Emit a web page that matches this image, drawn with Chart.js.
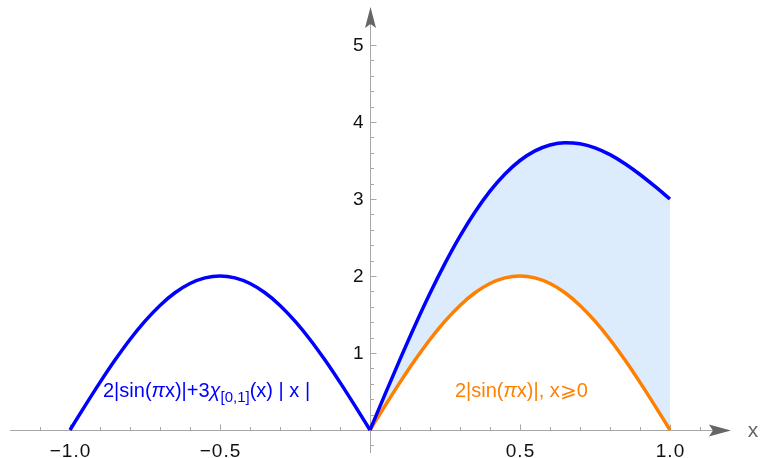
<!DOCTYPE html>
<html>
<head>
<meta charset="utf-8">
<script src="https://cdn.jsdelivr.net/npm/chart.js@4/dist/chart.umd.min.js"></script>
<style>
  html, body { margin: 0; padding: 0; background: #fff; }
  #wrap { width: 760px; height: 458px; position: relative; }
</style>
</head>
<body>
<div id="wrap"><canvas id="chart"></canvas></div>
<script>
// curve samples
const xLeft = [-1.0, -0.95, -0.9, -0.85, -0.8, -0.75, -0.7, -0.65, -0.6, -0.55, -0.5,
	-0.45, -0.4, -0.35, -0.3, -0.25, -0.2, -0.15, -0.1, -0.05, 0];
const blueLeft = [0, 0.313, 0.618, 0.908, 1.176, 1.414, 1.618, 1.782, 1.902, 1.975, 2.0,
	1.975, 1.902, 1.782, 1.618, 1.414, 1.176, 0.908, 0.618, 0.313, 0];
const xRight = [0, 0.05, 0.1, 0.15, 0.2, 0.25, 0.3, 0.35, 0.4, 0.45, 0.5,
	0.55, 0.6, 0.65, 0.7, 0.75, 0.8, 0.85, 0.9, 0.95, 1.0];
const blueRight = [0, 0.463, 0.918, 1.358, 1.776, 2.164, 2.518, 2.832, 3.102, 3.325, 3.5,
	3.625, 3.702, 3.732, 3.718, 3.664, 3.576, 3.458, 3.318, 3.163, 3.0];
const orangeRight = [0, 0.313, 0.618, 0.908, 1.176, 1.414, 1.618, 1.782, 1.902, 1.975, 2.0,
	1.975, 1.902, 1.782, 1.618, 1.414, 1.176, 0.908, 0.618, 0.313, 0];

const xTicks = [-1.0, -0.5, 0.5, 1.0];
const xTickLabels = ['\u22121.0', '\u22120.5', '0.5', '1.0'];
const yTicks = [1, 2, 3, 4, 5];
const yTickLabels = ['1', '2', '3', '4', '5'];

const BLUE = '#0000ff';
const ORANGE = '#ff8000';
const FILL = '#dcecfc';
const FONT = '"Liberation Sans", Arial, sans-serif';

const pts = (xs, ys) => xs.map((x, i) => ({ x: x, y: ys[i] }));

const axesPlugin = {
	id: 'axes',
	beforeDatasetsDraw(chart) {
		const ctx = chart.ctx;
		const sx = chart.scales.x;
		const sy = chart.scales.y;
		const x0 = Math.round(sx.getPixelForValue(0)) + 0.5;
		const y0 = Math.round(sy.getPixelForValue(0)) + 0.5;
		ctx.save();
		ctx.strokeStyle = '#a8a8a8';
		ctx.lineWidth = 1;

		// axis lines
		ctx.beginPath();
		ctx.moveTo(sx.getPixelForValue(-1.2), y0);
		ctx.lineTo(sx.getPixelForValue(1.15), y0);
		ctx.moveTo(x0, sy.getPixelForValue(-0.3));
		ctx.lineTo(x0, sy.getPixelForValue(5.3));
		ctx.stroke();

		// x ticks (minor every 0.1, major every 0.5)
		ctx.beginPath();
		for (let i = -11; i <= 11; i++) {
			if (i === 0) continue;
			const px = Math.round(sx.getPixelForValue(i / 10)) + 0.5;
			const len = i % 5 === 0 ? 6 : 3.5;
			ctx.moveTo(px, y0);
			ctx.lineTo(px, y0 - len);
		}
		// y ticks (minor every 0.2, major every 1)
		for (let i = -1; i <= 25; i++) {
			if (i === 0) continue;
			const py = Math.round(sy.getPixelForValue(i / 5)) + 0.5;
			const len = i % 5 === 0 ? 6 : 3.5;
			ctx.moveTo(x0, py);
			ctx.lineTo(x0 + len, py);
		}
		ctx.stroke();

		// arrow heads
		ctx.fillStyle = '#666666';
		const ax = sx.getPixelForValue(1.203);
		ctx.beginPath();
		ctx.moveTo(ax, y0);
		ctx.lineTo(ax - 22, y0 - 6);
		ctx.lineTo(ax - 18, y0);
		ctx.lineTo(ax - 22, y0 + 6);
		ctx.closePath();
		ctx.fill();
		const ay = sy.getPixelForValue(5.494);
		ctx.beginPath();
		ctx.moveTo(x0, ay);
		ctx.lineTo(x0 - 5.5, ay + 21);
		ctx.lineTo(x0, ay + 17);
		ctx.lineTo(x0 + 5.5, ay + 21);
		ctx.closePath();
		ctx.fill();

		// tick labels
		ctx.fillStyle = '#111';
		ctx.font = '19px ' + FONT;
		ctx.textAlign = 'center';
		ctx.textBaseline = 'alphabetic';
		ctx.letterSpacing = '1px';
		xTicks.forEach((v, i) => {
			ctx.fillText(xTickLabels[i], sx.getPixelForValue(v) + 0.5, y0 + 26.5);
		});
		ctx.letterSpacing = '0px';
		ctx.textAlign = 'right';
		ctx.textBaseline = 'middle';
		yTicks.forEach((v, i) => {
			ctx.fillText(yTickLabels[i], x0 - 7, sy.getPixelForValue(v) + 1);
		});

		// axis label
		ctx.fillStyle = '#666';
		ctx.font = '21px ' + FONT;
		ctx.textAlign = 'center';
		ctx.fillText('x', sx.getPixelForValue(1.277), y0 + 1);
		ctx.restore();
	}
};

// draw a label made of pieces: [text, style]
const drawPieces = (ctx, x, y, pieces, color) => {
	ctx.fillStyle = color;
	ctx.textAlign = 'left';
	ctx.textBaseline = 'alphabetic';
	let cx = x;
	pieces.forEach(([t, style]) => {
		let dy = 0;
		if (style === 'it') ctx.font = 'italic 20px ' + FONT;
		else if (style === 'sub') { ctx.font = '15px ' + FONT; dy = 5; }
		else ctx.font = '20px ' + FONT;
		ctx.fillText(t, cx, y + dy);
		cx += ctx.measureText(t).width;
	});
};

const labelPlugin = {
	id: 'labels',
	afterDatasetsDraw(chart) {
		const ctx = chart.ctx;
		const sx = chart.scales.x;
		const sy = chart.scales.y;
		ctx.save();
		drawPieces(ctx, sx.getPixelForValue(-0.89), sy.getPixelForValue(0.43), [
			['2|sin(', 'n'], ['\u03c0', 'it'], ['x)|+3', 'n'], ['\u03c7', 'it'],
			['[0,1]', 'sub'], ['(x) | x |', 'n']
		], BLUE);
		drawPieces(ctx, sx.getPixelForValue(0.283), sy.getPixelForValue(0.43), [
			['2|sin(', 'n'], ['\u03c0', 'it'], ['x)|, x', 'n'], ['\u2a7e', 'n'], ['0', 'n']
		], ORANGE);
		ctx.restore();
	}
};

new Chart(document.getElementById('chart'), {
	type: 'scatter',
	data: {
		datasets: [
			{
				data: pts(xLeft, blueLeft),
				showLine: true,
				borderColor: BLUE,
				borderWidth: 3.5,
				pointRadius: 0,
				cubicInterpolationMode: 'monotone',
				fill: false,
			},
			{
				data: pts(xRight, blueRight),
				showLine: true,
				borderColor: BLUE,
				borderWidth: 3.5,
				pointRadius: 0,
				cubicInterpolationMode: 'monotone',
				backgroundColor: FILL,
				fill: { target: 2 },
			},
			{
				data: pts(xRight, orangeRight),
				showLine: true,
				borderColor: ORANGE,
				borderWidth: 3.5,
				pointRadius: 0,
				cubicInterpolationMode: 'monotone',
				fill: false,
			},
		],
	},
	options: {
		responsive: true,
		maintainAspectRatio: false,
		animation: false,
		layout: { padding: 0 },
		plugins: {
			legend: { display: false },
			tooltip: { enabled: false },
			filler: { drawTime: 'beforeDatasetsDraw' },
		},
		scales: {
			x: { type: 'linear', min: -1.2333, max: 1.3, display: false },
			y: { type: 'linear', min: -0.3636, max: 5.5844, display: false },
		},
	},
	plugins: [axesPlugin, labelPlugin],
});
</script>
</body>
</html>
